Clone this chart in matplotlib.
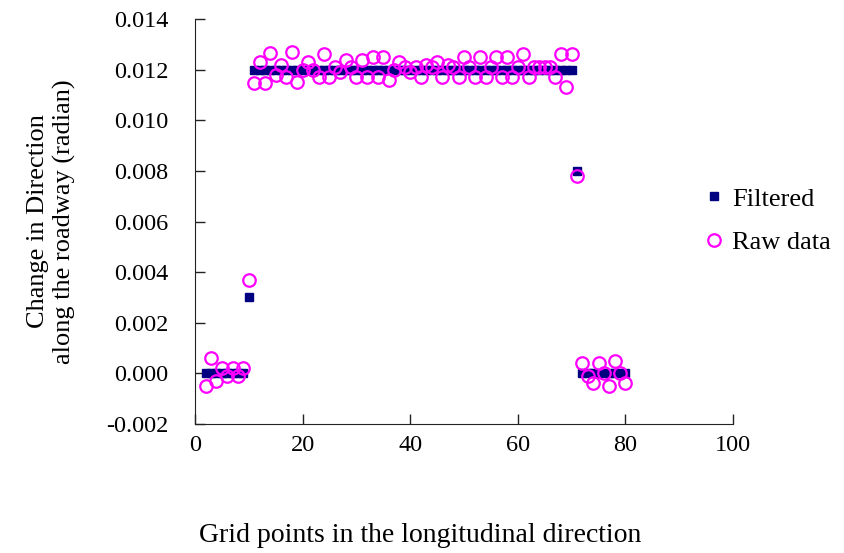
import numpy as np
import matplotlib
matplotlib.use("Agg")
import matplotlib.pyplot as plt
from matplotlib.ticker import FormatStrFormatter, MultipleLocator

plt.rcParams['font.family'] = ['Liberation Serif', 'DejaVu Serif']

# #############################################################################
# Data
grid_raw = list(range(2, 81))
raw_data = [-0.0005, 0.0006, -0.0003, 0.0002, -0.0001, 0.0002, -0.0001, 0.0002,   # 2-9
            0.0037,                                                              # 10
            0.01147, 0.0123, 0.01147, 0.01265, 0.0118, 0.0122, 0.0117, 0.0127,    # 11-18
            0.0115, 0.0120, 0.0123, 0.0120, 0.0117, 0.01262, 0.0117, 0.0121,      # 19-26
            0.0119, 0.0124, 0.0121, 0.0117, 0.0124, 0.0117, 0.0125, 0.0117,       # 27-34
            0.0125, 0.0116, 0.0120, 0.0123, 0.0121, 0.0119, 0.0121, 0.0117,       # 35-42
            0.0122, 0.0121, 0.0123, 0.0117, 0.0122, 0.0121, 0.0117, 0.0125,       # 43-50
            0.0121, 0.0117, 0.0125, 0.0117, 0.0121, 0.0125, 0.0117, 0.0125,       # 51-58
            0.0117, 0.0121, 0.0126, 0.0117, 0.0121, 0.0121, 0.0121, 0.0121,       # 59-66
            0.0117, 0.0126, 0.0113, 0.0126,                                       # 67-70
            0.0078,                                                              # 71
            0.0004, -0.0001, -0.0004, 0.0004, 0.0000, -0.0005, 0.0005, 0.0000,    # 72-79
            -0.0004]                                                             # 80

grid_filt = list(range(2, 81))
filtered = [0.0] * 8 + [0.003] + [0.012] * 60 + [0.008] + [0.0] * 9

# #############################################################################
# Plot
fig = plt.figure(figsize=(8.44, 5.53), dpi=100)
ax = fig.add_axes([0.231, 0.2333, 0.6375, 0.7323])

ax.plot(grid_filt, filtered, linestyle='none', marker='s', markersize=6,
        color='#000080', label='Filtered', zorder=2)
ax.plot(grid_raw, raw_data, linestyle='none', marker='o', markersize=9,
        markerfacecolor='none', markeredgecolor='#FF00FF', markeredgewidth=1.6,
        label='Raw data', zorder=3)

ax.set_xlim(0, 100)
ax.set_ylim(-0.002, 0.014)
ax.xaxis.set_major_locator(MultipleLocator(20))
ax.yaxis.set_major_locator(MultipleLocator(0.002))
ax.yaxis.set_major_formatter(FormatStrFormatter('%.3f'))

ax.spines['top'].set_visible(False)
ax.spines['right'].set_visible(False)
for s in ['left', 'bottom']:
    ax.spines[s].set_color('#222222')
ax.tick_params(direction='in', length=7, width=1, color='#222222',
               labelsize=17.5)
ax.tick_params(axis='y', pad=19)
ax.tick_params(axis='x', pad=8)

ax.set_xlabel('Grid points in the longitudinal direction', fontsize=20)
ax.xaxis.set_label_coords(0.418, -0.245)
ax.set_ylabel('Change in Direction\nalong the roadway (radian)', fontsize=19,
              labelpad=22, linespacing=1.2)

ax.legend(loc='upper left', bbox_to_anchor=(0.94, 0.585), frameon=False,
          fontsize=19, handlelength=1.0, handletextpad=0.2,
          labelspacing=0.75, borderaxespad=0, borderpad=0)

fig.savefig('out.png', dpi=100)
